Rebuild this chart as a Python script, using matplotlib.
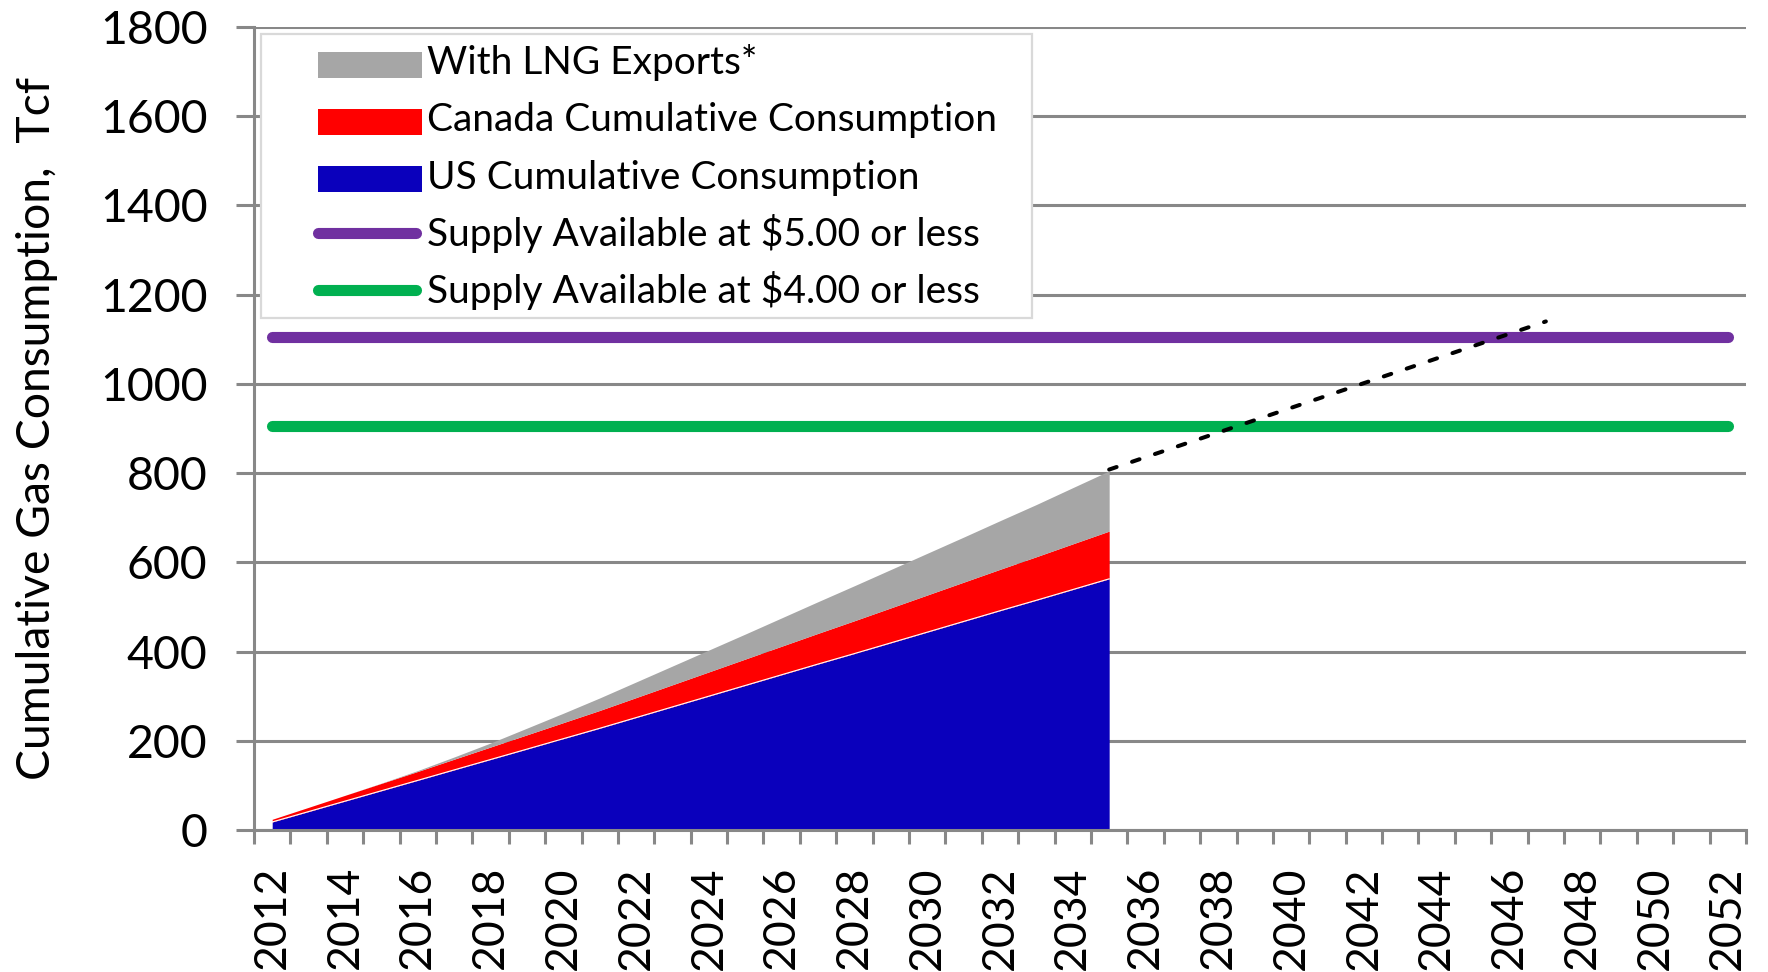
import numpy as np
import matplotlib
matplotlib.use("Agg")
import matplotlib.pyplot as plt
from matplotlib.patches import Rectangle
from matplotlib.lines import Line2D
from matplotlib.legend_handler import HandlerPatch, HandlerLine2D

# ---------------- data ----------------
years = list(range(2012, 2053))
area_years = list(range(2012, 2036))
us_cum = [18, 41.3, 64.7, 88, 111.3, 134.7, 158, 181.3, 204.7, 228, 252, 276,
          300, 324, 348, 372, 395.5, 419.5, 443.5, 467.5, 491.5, 515, 539, 563]
canada_cum = [6, 9.5, 13, 16.5, 20, 24, 28, 32, 36, 40, 44.8, 49.6, 54.4, 59.2,
              64, 68.8, 73.6, 78.4, 83.2, 88, 92.8, 97.6, 102.4, 107]
lng_exports = [0, 0, 0, 0.5, 2, 5, 9, 15, 21, 28, 35, 42, 49, 56, 63.5, 71,
               78.5, 86, 93.5, 101, 109, 117, 126, 135]
trend_years = [2035, 2047]
trend_values = [808, 1140]
supply_years = [2012, 2052]
supply_5 = [1105, 1105]
supply_4 = [905, 905]
xtick_years = list(range(2012, 2053, 2))
yticks = list(range(0, 1801, 200))
labels = ["With LNG Exports*", "Canada Cumulative Consumption",
          "US Cumulative Consumption", "Supply Available at $5.00 or less",
          "Supply Available at $4.00 or less"]
ylabel = "Cumulative Gas Consumption,  Tcf"

# ---------------- style ----------------
BLUE = "#0A00BC"
RED = "#FF0000"
GRAY = "#A6A6A6"
PURPLE = "#7030A0"
GREEN = "#00B050"
AXC = "#888888"
FONT = "Lato"

plt.rcParams["font.family"] = [FONT, "DejaVu Sans"]

W, H = 1768, 972
fig = plt.figure(figsize=(W / 100, H / 100), dpi=100)
L, R, T, B = 254, 1746, 27, 830
ax = fig.add_axes([L / W, (H - B) / H, (R - L) / W, (B - T) / H])

x0 = years[0]
xa = np.array(area_years) - x0
us = np.array(us_cum)
ca = us + np.array(canada_cum)
tot = ca + np.array(lng_exports)

ax.fill_between(xa, 0, us, color=BLUE, lw=0, zorder=2)
ax.fill_between(xa, us, ca, color=RED, lw=0, zorder=2)
ax.fill_between(xa, ca, tot, color=GRAY, lw=0, zorder=2)
ax.plot(xa, us, color="white", lw=0.8, zorder=3)

sx = np.array(supply_years) - x0
l5, = ax.plot(sx, supply_5, color=PURPLE, lw=8, solid_capstyle="round", zorder=3)
l4, = ax.plot(sx, supply_4, color=GREEN, lw=8, solid_capstyle="round", zorder=3)
ax.plot(np.array(trend_years) - x0, trend_values, color="black", lw=2.9,
        ls=(0, (1.95, 4.05)), dash_capstyle="round", zorder=3)

ax.set_xlim(-0.5, len(years) - 0.5)
ax.set_ylim(0, 1800)
ax.set_yticks(yticks)
ax.set_yticklabels([str(v) for v in yticks])
ax.set_xticks(np.array(xtick_years) - x0)
ax.set_xticklabels([str(y) for y in xtick_years], rotation=90)
ax.set_xticks(np.arange(-0.5, len(years), 1.0), minor=True)

ax.yaxis.grid(True, color=AXC, lw=2.2, zorder=0)
ax.set_axisbelow(True)
for s in ["top", "right"]:
    ax.spines[s].set_visible(False)
for s in ["left", "bottom"]:
    ax.spines[s].set_color(AXC)
    ax.spines[s].set_linewidth(2.2)
    ax.spines[s].set_zorder(4)

ax.tick_params(axis="y", length=13, width=2.2, color=AXC, pad=20.5,
               labelsize=33.5, labelcolor="black")
ax.tick_params(axis="x", which="major", length=0, pad=26, labelsize=32,
               labelcolor="black")
ax.tick_params(axis="x", which="minor", length=10, width=2.2, color=AXC)

ax.set_ylabel(ylabel, fontsize=33.3)
ax.yaxis.set_label_coords((58 - L) / (R - L), 0.5)

# ---------------- legend ----------------
LEG_FS = 28
HANDLE_OFF = 0.346
PATCH_YC, PATCH_H = 0.244, 0.668
LINE_YC = 0.327


def patch_func(legend, orig_handle, xdescent, ydescent, width, height, fontsize):
    off = HANDLE_OFF * width
    return Rectangle((-xdescent + off, (PATCH_YC - PATCH_H / 2) * fontsize),
                     width - off, PATCH_H * fontsize)


class OffsetLine(HandlerLine2D):
    def create_artists(self, legend, orig_handle, xdescent, ydescent, width,
                       height, fontsize, trans):
        arts = super().create_artists(legend, orig_handle, xdescent, ydescent,
                                      width, height, fontsize, trans)
        xs = np.array([-xdescent + HANDLE_OFF * width,
                       -xdescent + width - 0.15 * fontsize])
        for a in arts:
            a.set_xdata(xs)
            a.set_ydata(np.full(2, LINE_YC * fontsize))
            a.set_markevery(None)
        return arts


h_lng = Rectangle((0, 0), 1, 1, facecolor=GRAY, edgecolor="none")
h_can = Rectangle((0, 0), 1, 1, facecolor=RED, edgecolor="none")
h_us = Rectangle((0, 0), 1, 1, facecolor=BLUE, edgecolor="none")

lx0 = (261 - L) / (R - L)
lx1 = (1032 - L) / (R - L)
ly1 = (B - 34) / (B - T)
leg = ax.legend([h_lng, h_can, h_us, l5, l4], labels,
                loc="upper left", bbox_to_anchor=(lx0, ly1 - 0.4, lx1 - lx0, 0.4),
                mode="expand", borderaxespad=0, fancybox=False, framealpha=1,
                edgecolor="#D9D9D9", prop={"family": FONT, "size": LEG_FS},
                handlelength=4.09, handleheight=1.626, handletextpad=0.12,
                borderpad=0.057, labelspacing=0.17,
                handler_map={Rectangle: HandlerPatch(patch_func=patch_func),
                             Line2D: OffsetLine()})
leg.get_frame().set_linewidth(1.6)
leg.set_zorder(6)

fig.savefig("out.png", dpi=100)
